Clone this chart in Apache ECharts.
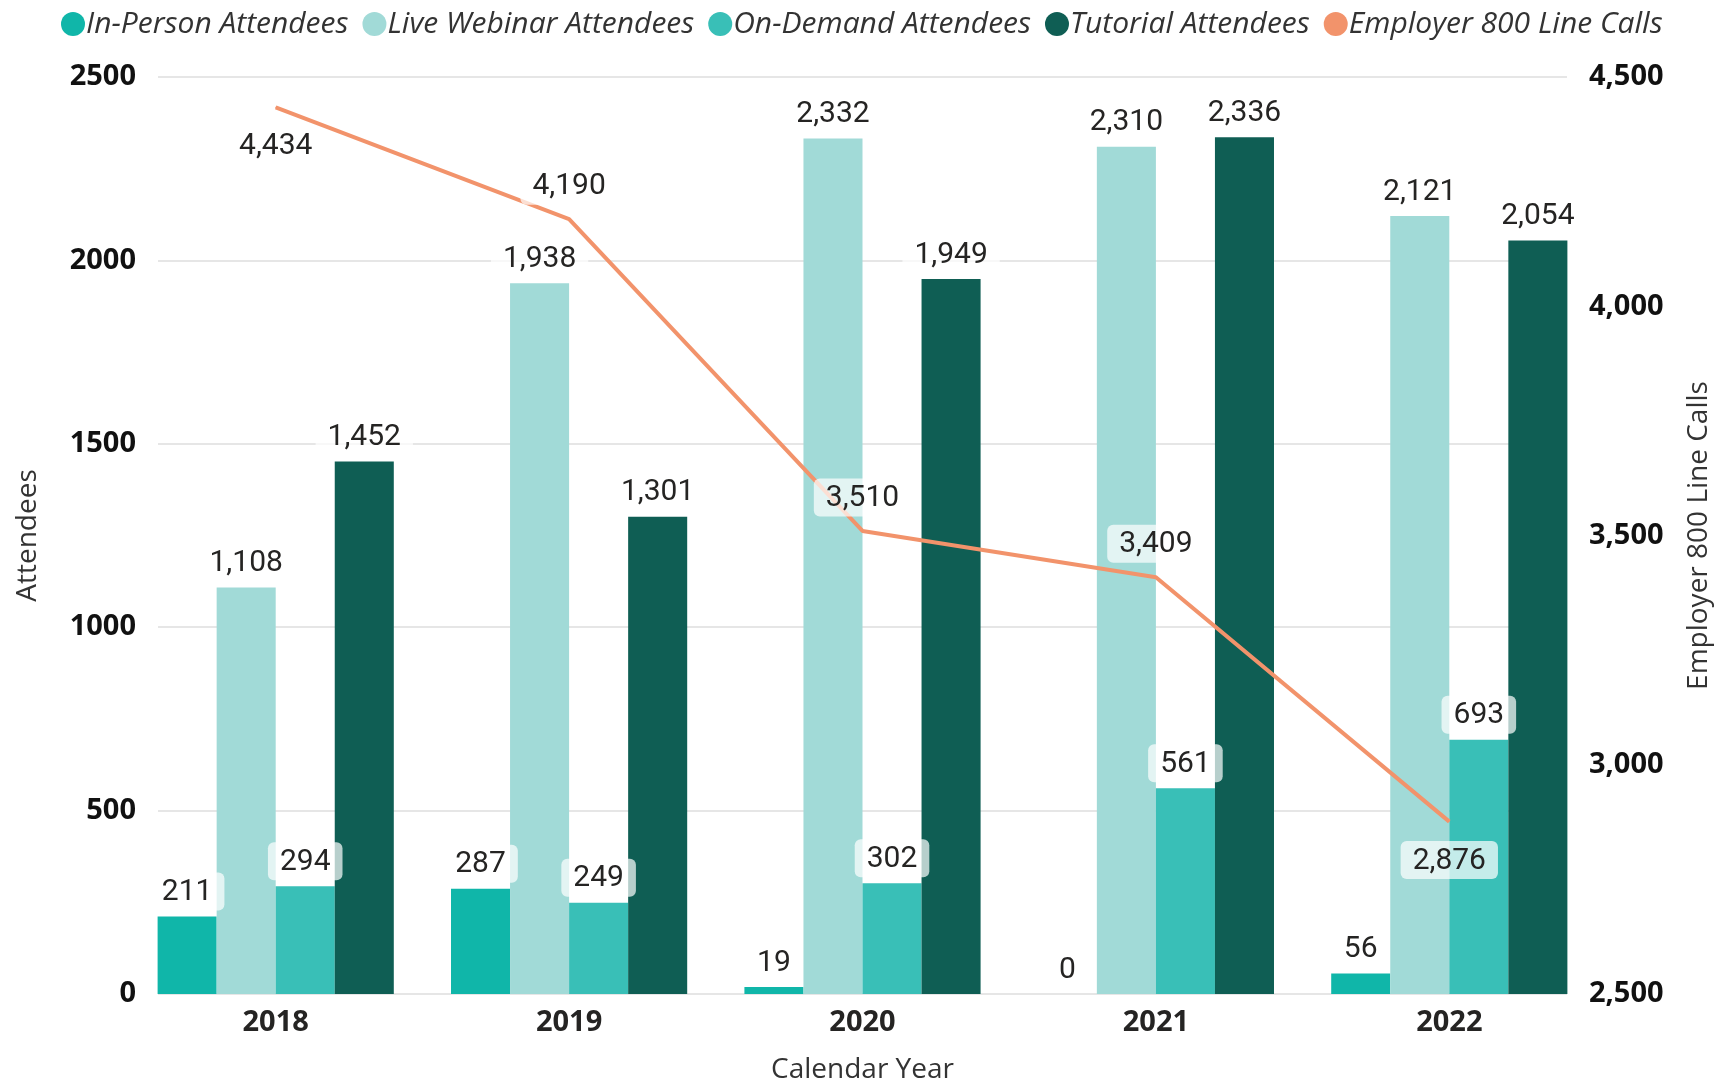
<!DOCTYPE html>
<html>
<head>
<meta charset="utf-8">
<script src="https://cdn.jsdelivr.net/npm/echarts@6/dist/echarts.min.js"></script>
<style>
  html, body { margin: 0; padding: 0; background: #fff; }
  #chart { width: 1718px; height: 1083px; }
</style>
</head>
<body>
<div id="chart"></div>
<script>
const years = ["2018", "2019", "2020", "2021", "2022"];
const inPerson = [211, 287, 19, 0, 56];
const liveWebinar = [1108, 1938, 2332, 2310, 2121];
const onDemand = [294, 249, 302, 561, 693];
const tutorial = [1452, 1301, 1949, 2336, 2054];
const lineCalls = [4434, 4190, 3510, 3409, 2876];
// label above (true) or below (false) the line point
const lineLabelAbove = [false, true, true, true, false];

const chart = echarts.init(document.getElementById("chart"));

const fmt = (v) => v.toLocaleString("en-US");

const labelFont = "Roboto, 'DejaVu Sans', sans-serif";
const axisFont = "'Open Sans', 'DejaVu Sans', sans-serif";

const barLabel = {
  show: true,
  position: "top",
  distance: 6,
  fontFamily: labelFont,
  fontSize: 30,
  color: "#252423",
  backgroundColor: "rgba(255,255,255,0.7)",
  borderRadius: 6,
  padding: [5, 12, 3, 12],
  formatter: (p) => fmt(p.value),
};

function barSeries(name, data, color) {
  return {
    name: name,
    type: "bar",
    xAxisIndex: 1,
    yAxisIndex: 2,
    data: data,
    itemStyle: { color: color },
    label: barLabel,
    barGap: "0%",
    barCategoryGap: "19.5%",
  };
}

const option = {
  animation: false,
  backgroundColor: "#fff",
  legend: {
    left: 56,
    top: 4,
    icon: "circle",
    itemWidth: 24,
    itemHeight: 24,
    itemGap: 14,
    textStyle: {
      fontFamily: axisFont,
      fontStyle: "italic",
      fontSize: 30,
      color: "#333",
      padding: [0, 0, 0, -4],
    },
    data: [
      "In-Person Attendees",
      "Live Webinar Attendees",
      "On-Demand Attendees",
      "Tutorial Attendees",
      "Employer 800 Line Calls",
    ],
  },
  grid: [
    { left: 158, right: 151, top: 77, bottom: 89, outerBoundsMode: "none", containLabel: false },
    { left: 129, right: 122, top: 77, bottom: 89, outerBoundsMode: "none", containLabel: false },
  ],
  xAxis: [
    { type: "category", gridIndex: 0, data: years, show: false },
    {
      type: "category",
      gridIndex: 1,
      data: years,
      axisLine: { show: false },
      axisTick: { show: false },
      axisLabel: {
        fontFamily: axisFont,
        fontWeight: "bold",
        fontSize: 29,
        color: "#252423",
        margin: 14,
      },
      name: "Calendar Year",
      nameLocation: "middle",
      nameGap: 62,
      nameTextStyle: { fontFamily: axisFont, fontSize: 28, color: "#333" },
    },
  ],
  yAxis: [
    {
      type: "value",
      gridIndex: 0,
      min: 0,
      max: 2500,
      interval: 500,
      axisLine: { show: false },
      axisTick: { show: false },
      splitLine: { lineStyle: { color: "#e6e6e6", width: 2 } },
      axisLabel: {
        fontFamily: axisFont,
        fontWeight: "bold",
        fontSize: 29,
        color: "#111",
        margin: 22,
        formatter: (v) => String(v),
      },
      name: "Attendees",
      nameLocation: "middle",
      nameRotate: 90,
      nameGap: 116,
      nameTextStyle: { fontFamily: axisFont, fontSize: 28, color: "#333" },
    },
    {
      type: "value",
      gridIndex: 0,
      position: "right",
      min: 2500,
      max: 4500,
      interval: 500,
      axisLine: { show: false },
      axisTick: { show: false },
      splitLine: { show: false },
      axisLabel: {
        fontFamily: axisFont,
        fontWeight: "bold",
        fontSize: 29,
        color: "#111",
        margin: 22,
        formatter: (v) => fmt(v),
      },
      name: "Employer 800 Line Calls",
      nameLocation: "middle",
      nameRotate: 90,
      nameGap: 118,
      nameTextStyle: { fontFamily: axisFont, fontSize: 28, color: "#333" },
    },
    { type: "value", gridIndex: 1, min: 0, max: 2500, show: false },
    { type: "value", gridIndex: 1, position: "right", min: 2500, max: 4500, show: false },
  ],
  series: [
    barSeries("In-Person Attendees", inPerson, "#10b6a9"),
    barSeries("Live Webinar Attendees", liveWebinar, "#a1dad7"),
    barSeries("On-Demand Attendees", onDemand, "#39bfb7"),
    barSeries("Tutorial Attendees", tutorial, "#0f5e54"),
    {
      name: "Employer 800 Line Calls",
      type: "line",
      xAxisIndex: 1,
      yAxisIndex: 3,
      z: 5,
      data: lineCalls.map((v, i) => ({
        value: v,
        label: lineLabelAbove[i]
          ? { position: "top", distance: 14 }
          : { position: "bottom", distance: 19 },
      })),
      itemStyle: { color: "#f2936b" },
      lineStyle: { color: "#f2936b", width: 4 },
      symbol: "circle",
      symbolSize: 1,
      showSymbol: true,
      label: Object.assign({}, barLabel, { distance: 14 }),
      labelLayout: { hideOverlap: false },
    },
  ],
};

chart.setOption(option);
</script>
</body>
</html>
